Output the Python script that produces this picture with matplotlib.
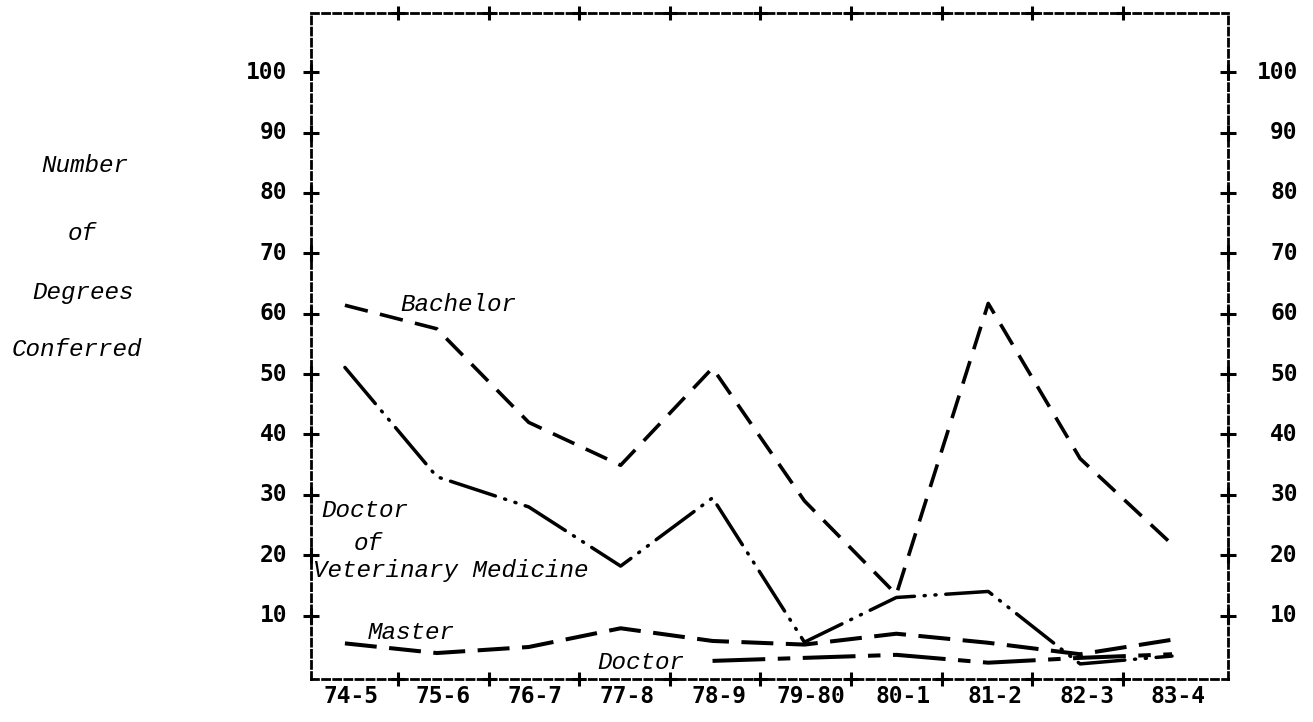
import numpy as np
import matplotlib
matplotlib.use("Agg")
import matplotlib.pyplot as plt

# ---- data ----
years = ["74-5", "75-6", "76-7", "77-8", "78-9", "79-80", "80-1", "81-2", "82-3", "83-4"]
bachelor = [61.4, 57.5, 42.0, 34.9, 51.0, 29.0, 13.5, 61.7, 36.0, 21.8]
vmd = [51.1, 33.0, 28.0, 18.2, 29.5, 5.6, 13.0, 14.0, 2.0, 3.3]
master = [5.4, 3.8, 4.8, 7.9, 5.8, 5.2, 7.0, 5.5, 3.6, 6.0]
doctor = [np.nan, np.nan, np.nan, np.nan, 2.5, 3.0, 3.5, 2.2, 3.0, 3.6]
y_ticks = [10, 20, 30, 40, 50, 60, 70, 80, 90, 100]

plt.rcParams['lines.scale_dashes'] = False
W, H = 1313, 722
fig = plt.figure(figsize=(W / 100, H / 100), dpi=100)
fig.patch.set_facecolor('white')
ax = fig.add_axes([311 / W, 1 - 679 / H, (1228 - 311) / W, (679 - 13) / H])
x = np.arange(len(years))
ax.set_xlim(-0.369, 9.609)
ax.set_ylim(-0.5, 109.8)
ax.set_xticks([])
ax.set_yticks([])

for s in ax.spines.values():
    s.set_linestyle((0, (5, 3)))
    s.set_linewidth(2.0)
    s.set_color('black')

num_font = dict(family='DejaVu Sans Mono', weight='bold', size=16.5, color='black')
ital_font = dict(family='Liberation Mono', style='italic', size=17.5, color='black')

# frame "+" ticks
xt = [0.578 + 0.986 * k for k in range(9)]
xtr = ax.get_xaxis_transform()
ytr = ax.get_yaxis_transform()
for yy in (0, 1):
    ax.plot(xt, [yy] * len(xt), '+', color='black', ms=10, mew=2.2,
            transform=xtr, clip_on=False)
for xx in (0, 1):
    ax.plot([xx] * len(y_ticks), y_ticks, '+', color='black', ms=11, mew=2.2,
            transform=ytr, clip_on=False)

# tick labels
for v in y_ticks:
    ax.text(-0.026, v, str(v), transform=ytr, ha='right', va='center', **num_font)
    ax.text(1.076, v, str(v), transform=ytr, ha='right', va='center', **num_font)
for i, lab in enumerate(years):
    ax.text(i + 0.07, -0.027, lab, transform=xtr, ha='center', va='center', **num_font)

# series
ax.plot(x, bachelor, color='black', lw=2.6, dashes=(17, 9))
ax.plot(x, vmd, color='black', lw=2.5, dashes=(34, 7, 0.8, 7, 0.8, 7),
        dash_capstyle='round')
ax.plot(x, master, color='black', lw=2.9, dashes=(23, 9))
ax.plot(x, doctor, color='black', lw=2.9, dashes=(38, 9, 9, 9))

# in-plot labels
ax.text(1.23, 61.6, "Bachelor", ha='center', va='center', **ital_font)
ax.text(0.22, 27.4, "Doctor", ha='center', va='center', **ital_font)
ax.text(0.25, 21.9, "of", ha='center', va='center', **ital_font)
ax.text(1.15, 17.4, "Veterinary Medicine", ha='center', va='center', **ital_font)
ax.text(0.72, 7.2, "Master", ha='center', va='center', **ital_font)
ax.text(3.22, 2.2, "Doctor", ha='center', va='center', **ital_font)

# y axis title (stacked words)
for word, px, py in [("Number", 85, 165), ("of", 82, 233),
                     ("Degrees", 83, 292), ("Conferred", 77, 350)]:
    fig.text(px / W, 1 - py / H, word, ha='center', va='center', **ital_font)

fig.savefig("out.png", dpi=100, facecolor='white')
